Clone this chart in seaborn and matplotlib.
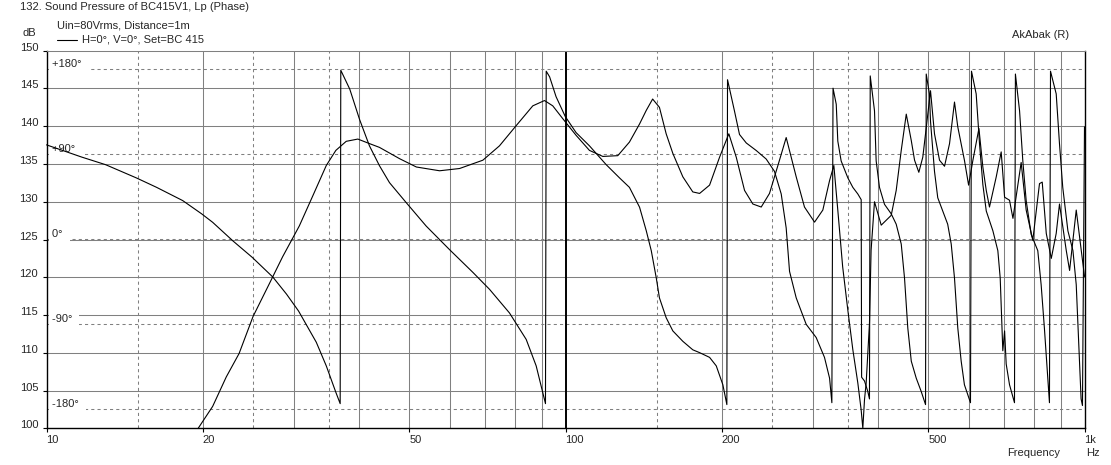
import matplotlib
matplotlib.use('Agg')
import matplotlib.pyplot as plt
import matplotlib.transforms as mtransforms
from matplotlib.lines import Line2D
import seaborn as sns

# ---- data ----
# sound pressure level (dB) vs frequency (Hz)
spl_freq = [19.6, 20.9, 22.2, 23.5, 25.0, 26.9, 28.5, 30.7, 32.6, 34.6,
            36.1, 37.8, 39.8, 41.9, 43.8, 47.9, 51.6, 57.2, 62.5, 69.3,
            74.6, 80.4, 86.5, 91.1, 94.5, 98.8, 104.8, 111.2, 118, 126.1,
            132.8, 138.9, 143.1, 147.2, 151.7, 156.3, 161, 168.3, 175.9, 181.3,
            189.5, 198.1, 206.4, 213.3, 221.3, 229.6, 238.3, 247.2, 258.4, 266.2,
            278.3, 288.7, 301.9, 313.2, 322.7, 328.9, 334.7, 342, 350, 357.8,
            365.8, 371.3, 374, 376.8, 379.6, 385.2, 388, 393.9, 405.8, 424.2,
            433.7, 443.5, 453.5, 463.7, 470.5, 479.5, 488, 494, 505, 514,
            525.6, 537.4, 549.5, 561.7, 570, 587, 598, 609.5, 626, 637,
            646.7, 656, 676, 691, 701.5, 717, 728, 755, 772, 795,
            819, 829, 844, 863, 882, 895, 922, 936, 964, 1000]
spl_db = [100.0, 102.9, 106.8, 109.9, 114.8, 119.2, 122.7, 126.8, 130.8, 134.8,
          136.8, 138.0, 138.3, 137.7, 137.2, 135.7, 134.6, 134.1, 134.4, 135.5,
          137.4, 140.1, 142.7, 143.4, 142.7, 141.0, 138.8, 136.8, 136.0, 136.1,
          137.9, 140.3, 142.1, 143.6, 142.5, 139.0, 136.4, 133.3, 131.3, 131.1,
          132.2, 135.9, 139.0, 135.9, 131.5, 129.7, 129.3, 131.1, 135.5, 138.5,
          133.3, 129.3, 127.3, 128.9, 132.8, 134.8, 128.9, 121.4, 115.6, 110.4,
          106.0, 102.4, 100.0, 103.8, 106.0, 113.9, 123.6, 130.0, 126.9, 128.2,
          131.5, 136.8, 141.6, 138.1, 135.5, 133.9, 135.9, 139.0, 144.7, 139.0,
          135.5, 134.7, 137.7, 143.2, 139.9, 135.5, 132.2, 135.5, 139.7, 134.6,
          131.5, 129.3, 133.3, 136.6, 130.6, 130.2, 127.8, 135.2, 128.9, 124.9,
          132.4, 132.6, 125.8, 122.5, 125.8, 129.7, 123.6, 120.9, 128.9, 120.1]

# phase (degrees, wrapped) vs frequency (Hz)
phase_freq = [10, 11.7, 13.0, 14.9, 16.3, 18.3, 19.9, 20.9, 22.9, 24.9,
              27.3, 29.0, 30.6, 33.1, 34.6, 36.1, 36.8, 36.9, 38.4, 40.1,
              41.9, 43.8, 45.8, 49.3, 53.9, 59.8, 66.3, 71.4, 78.0, 84.0,
              87.8, 91.5, 91.8, 93.2, 95.9, 99.9, 104.8, 111.2, 119.8, 127.1,
              132.8, 138.9, 143.1, 146.3, 149.6, 151.7, 156.3, 161, 168.3, 175.9,
              181.3, 189.5, 195.2, 201, 204.6, 205.2, 211.6, 216.4, 223, 233.1,
              243.6, 252.7, 260.4, 266.2, 270.2, 278.3, 290.9, 304.1, 315.5, 322.7,
              326, 327.7, 332.4, 334.7, 339.7, 350, 357.8, 365.8, 371.3, 372,
              376.8, 382.3, 385.2, 386.5, 393.9, 396.8, 402.7, 411.8, 424.2, 433.7,
              443.5, 450, 456.6, 463.7, 474, 484.5, 494, 495.5, 502.6, 505,
              514, 521.5, 533, 545, 553.6, 561.7, 570, 578.6, 587, 603,
              605.7, 618.4, 627.7, 637, 646.7, 666, 680.8, 688, 696, 701.5,
              706.5, 717, 733, 736, 749.7, 760.6, 772, 789.5, 812.8, 825,
              837, 846, 856, 860, 882, 895, 908, 929, 950, 964,
              975, 985, 991, 1000]
phase_deg = [100, 87, 79, 65, 55, 41, 27, 18, -2, -19,
             -40, -58, -76, -109, -134, -162, -174, 179, 159, 127,
             99, 78, 60, 39, 14, -11, -35, -53, -78, -106,
             -134, -174, 178, 172, 151, 130, 113, 99, 79, 65,
             55, 34, 9, -12, -41, -62, -83, -97, -108, -117,
             -120, -125, -134, -154, -175, 169, 136, 111, 102, 94,
             85, 72, 48, 12, -34, -62, -90, -104, -125, -147,
             -173, 160, 143, 104, 83, 65, 55, 48, 42, -146,
             -150, -161, -169, 173, 136, 83, 55, 37, 27, 16,
             -5, -41, -94, -129, -147, -161, -175, 175, 154, 125,
             72, 44, 30, 16, -5, -41, -94, -129, -154, -173,
             178, 154, 101, 58, 30, 9, -12, -41, -118, -97,
             -132, -154, -173, 175, 136, 83, 41, 5, -12, -48,
             -94, -132, -173, 178, 154, 101, 55, 9, -12, -48,
             -111, -169, -176, 119]

xtick_vals = [10, 20, 50, 100, 200, 500, 1000]
xtick_labels = ['10', '20', '50', '100', '200', '500', '1k']
ytick_vals = [100, 105, 110, 115, 120, 125, 130, 135, 140, 145, 150]
solid_grid_freqs = [20, 30, 40, 50, 60, 70, 80, 90, 200, 300, 400, 500, 600, 700, 800, 900]
dashed_grid_freqs = [15, 25, 35, 150, 250, 350]
phase_levels = [180, 90, 0, -90, -180]
phase_labels = ['+180°', '+90°', '0°', '-90°', '-180°']

# ---- style ----
sns.set_style('white')
plt.rcParams['font.family'] = ['Liberation Sans', 'DejaVu Sans']
plt.rcParams['font.size'] = 8

W, H = 1111, 465
fig = plt.figure(figsize=(W / 100, H / 100), dpi=100)
ax = fig.add_axes([46.5 / W, 1 - 428.3 / H, 1038 / W, 377.6 / H])
ax2 = ax.twinx()

grid_c = '#808080'
dash = (0, (3, 3))

# grid
for y in ytick_vals[1:-1]:
    ax.axhline(y, color=grid_c, lw=0.75, zorder=0.5)
for f in solid_grid_freqs:
    ax.axvline(f, color=grid_c, lw=0.75, zorder=0.5)
for f in dashed_grid_freqs:
    ax.axvline(f, color=grid_c, lw=0.75, ls=dash, zorder=0.5)
ax.axvline(100, color='black', lw=1.4, zorder=1.5)

# phase reference lines + labels (y in phase units of ax2)
ph_trans = mtransforms.blended_transform_factory(ax.transAxes, ax2.transData)
for p, lab in zip(phase_levels, phase_labels):
    ax.plot([0, 1], [p, p], transform=ph_trans, color=grid_c, lw=0.75, ls=dash, zorder=0.6)
    t = mtransforms.offset_copy(ph_trans, fig=fig, x=6, y=5, units='dots')
    ax.text(0, p, lab + ' ', transform=t, ha='left', va='center', zorder=1,
            bbox=dict(facecolor='white', edgecolor='none', pad=2.5))

# curves
sns.lineplot(x=spl_freq, y=spl_db, ax=ax, estimator=None, sort=False,
             color='black', lw=0.8, zorder=2)
sns.lineplot(x=phase_freq, y=phase_deg, ax=ax2, estimator=None, sort=False,
             color='black', lw=0.8, zorder=2)

ax.set_xscale('log')
ax.set_xlim(10, 1000)
ax.set_ylim(100, 150)
ax2.set_ylim(-200.1, 199.7)
ax2.set_yticks([])
for s in ax2.spines.values():
    s.set_visible(False)

ax.set_xticks(xtick_vals)
ax.set_xticklabels(xtick_labels)
ax.xaxis.set_minor_locator(matplotlib.ticker.NullLocator())
ax.set_yticks(ytick_vals)
ax.tick_params(axis='both', which='major', direction='out', length=3, width=0.8,
               color='black', labelsize=8, pad=3, left=True, bottom=True)
ax.tick_params(axis='x', pad=2)
for lbl in ax.get_xticklabels():
    lbl.set_ha('left')
shift = mtransforms.ScaledTranslation(0, 4 / 100, fig.dpi_scale_trans)
for lbl in ax.get_yticklabels():
    lbl.set_transform(lbl.get_transform() + shift)

for side in ['left', 'bottom', 'right']:
    ax.spines[side].set_color('black')
    ax.spines[side].set_linewidth(1.0)
ax.spines['top'].set_color(grid_c)
ax.spines['top'].set_linewidth(0.75)
ax.set_xlabel('')
ax.set_ylabel('')
ax2.set_ylabel('')

# header / footer texts
def ftext(x, y, s, **kw):
    fig.text(x / W, 1 - y / H, s, va='center', **kw)

ftext(20, 7, '132. Sound Pressure of BC415V1, Lp (Phase)', ha='left')
ftext(57, 25, 'Uin=80Vrms, Distance=1m', ha='left')
ftext(36, 33, 'dB', ha='right')
fig.add_artist(Line2D([57 / W, 77 / W], [1 - 40 / H, 1 - 40 / H], color='black',
                      lw=0.8, transform=fig.transFigure))
ftext(82, 40, 'H=0°, V=0°, Set=BC 415', ha='left')
ftext(1069, 35, 'AkAbak (R)', ha='right')
ftext(1060, 453, 'Frequency', ha='right')
ftext(1086, 453, 'Hz', ha='left')

fig.savefig('out.png', dpi=100, facecolor='white')
